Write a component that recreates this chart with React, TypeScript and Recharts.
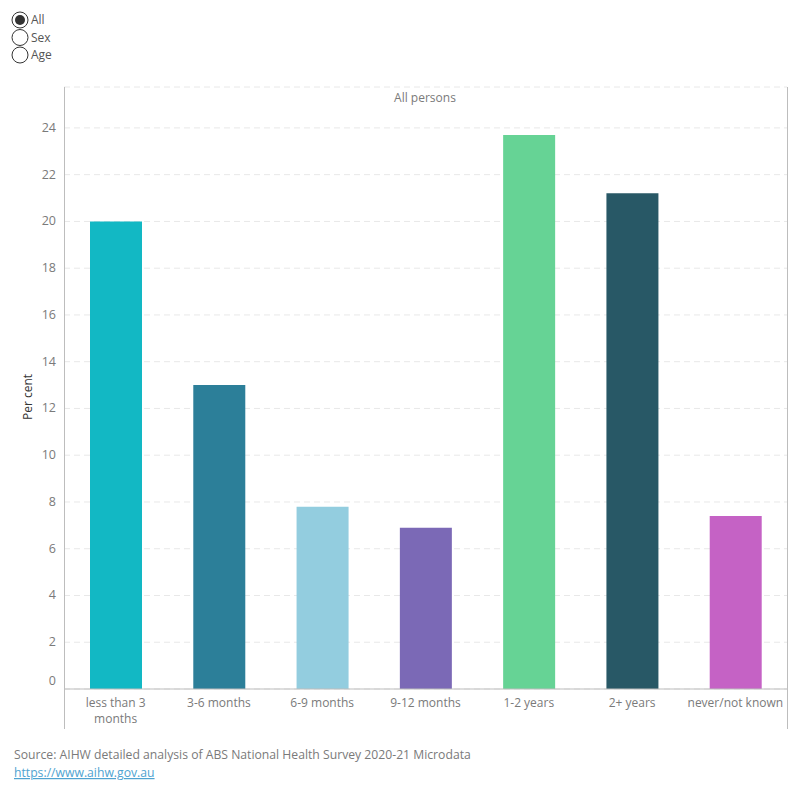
import React from "react";
import { BarChart, Bar, XAxis, YAxis, CartesianGrid, Cell, Text } from "recharts";

const categories = ["less than 3 months", "3-6 months", "6-9 months", "9-12 months", "1-2 years", "2+ years", "never/not known"];
const values = [20.0, 13.0, 7.8, 6.9, 23.7, 21.2, 7.4];
const colors = ["#12B8C4", "#2C7F99", "#93CDDF", "#7B69B6", "#66D395", "#285866", "#C562C5"];
const yTicks = [0, 2, 4, 6, 8, 10, 12, 14, 16, 18, 20, 22, 24];
const radioOptions = ["All", "Sex", "Age"];

const data = categories.map((c, i) => ({ name: c, value: values[i] }));

const FONT = "'Open Sans', sans-serif";
const GRAY = "#7a7a7a";

const YTick = (props: any) => {
  const { x, y, payload } = props;
  const dy = payload.value === 0 ? -8 : 0;
  return (
    <text x={x} y={y + dy} dy={4} textAnchor="end" fill={GRAY} fontSize={12.5} fontFamily={FONT}>
      {payload.value}
    </text>
  );
};

const XTick = (props: any) => {
  const { x, y, payload } = props;
  const w = String(payload.value).length > 16 ? 80 : 200;
  return (
    <Text x={x} y={y} width={w} textAnchor="middle" verticalAnchor="start" fill={GRAY} fontSize={12} fontFamily={FONT} lineHeight={16}>
      {payload.value}
    </Text>
  );
};

export default function App() {
  return (
    <div style={{ position: "relative", width: 800, height: 800, margin: -8, background: "#fff", fontFamily: FONT }}>
      <div style={{ position: "absolute", left: 0, top: 0 }}>
        <BarChart width={800} height={800} data={data} margin={{ top: 87, right: 13, bottom: 71, left: 14 }} barSize={52}>
          <CartesianGrid vertical={false} stroke="#e8e8e8" strokeDasharray="6 4" />
          <YAxis
            width={50}
            domain={[0, 25.75]}
            ticks={yTicks}
            allowDataOverflow
            axisLine={false}
            tickLine={false}
            tick={<YTick />}
          />
          <XAxis
            dataKey="name"
            height={40}
            interval={0}
            axisLine={{ stroke: "#bdbdbd" }}
            tickLine={false}
            tick={<XTick />}
            tickMargin={3}
          />
          <Bar dataKey="value" isAnimationActive={false}>
            {data.map((d, i) => (
              <Cell key={d.name} fill={colors[i]} />
            ))}
          </Bar>
        </BarChart>
      </div>
      <svg width={800} height={800} style={{ position: "absolute", left: 0, top: 0, pointerEvents: "none" }}>
        <line x1={64.5} y1={87} x2={64.5} y2={729} stroke="#bdbdbd" strokeWidth={1} />
        <line x1={787.5} y1={87} x2={787.5} y2={729} stroke="#bdbdbd" strokeWidth={1} />
        <text x={425} y={102} textAnchor="middle" fill={GRAY} fontSize={12} fontFamily={FONT}>All persons</text>
        <text x={32} y={397} transform="rotate(-90 32 397)" textAnchor="middle" fill="#333" fontSize={12} fontFamily={FONT}>Per cent</text>
        {radioOptions.map((o, i) => (
          <g key={o}>
            <circle cx={20} cy={20 + i * 17.5} r={8} fill="#fff" stroke="#333" strokeWidth={1} />
            {i === 0 && <circle cx={20} cy={20} r={5} fill="#333" />}
            <text x={31} y={24 + i * 17.5} fill="#555" fontSize={12} fontFamily={FONT}>{o}</text>
          </g>
        ))}
        <text x={14} y={759} fill={GRAY} fontSize={12.2} fontFamily={FONT}>
          Source: AIHW detailed analysis of ABS National Health Survey 2020-21 Microdata
        </text>
        <text x={14} y={777} fill="#4fa3d1" fontSize={12.2} fontFamily={FONT} textDecoration="underline">
          https://www.aihw.gov.au
        </text>
      </svg>
    </div>
  );
}
